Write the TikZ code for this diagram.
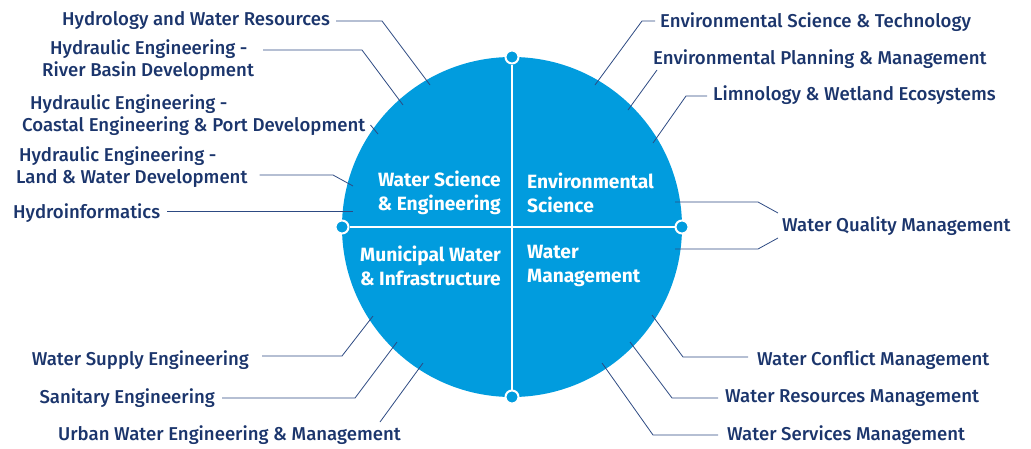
\documentclass[tikz,border=0pt]{standalone}
\usepackage{fontspec}
\setmainfont{Fira Sans}
\newfontfamily\medfont{Fira Sans Medium}
\definecolor{circblue}{HTML}{019CDE}
\definecolor{navy}{HTML}{1B356C}
\definecolor{linenavy}{HTML}{2D4A82}
\tikzset{
  topic/.style={inner sep=0pt, text=navy, font=\medfont\fontsize{18.6}{21.5}\selectfont},
  quad/.style={inner sep=0pt, text=white, font=\bfseries\fontsize{19.2}{24}\selectfont},
  dot/.style={circle, fill=circblue, draw=white, line width=2pt, minimum size=13pt, inner sep=0pt},
  cross/.style={draw=white, line width=2pt},
  link/.style={draw=linenavy, line width=0.8pt},
}
\begin{document}
\begin{tikzpicture}[x=1pt, y=-1pt]
    \useasboundingbox (0,0) rectangle (1031,448);
    % the circle and its four quarters
    \coordinate (c) at (512,227);
    \fill[circblue] (c) circle[radius=170pt];
    \node[dot] (ntop) at (512,57) {};
    \node[dot] (nbot) at (512,397) {};
    \node[dot] (nleft) at (342,227) {};
    \node[dot] (nright) at (682,227) {};
    \draw[cross] (ntop) -- (nbot);
    \draw[cross] (nleft) -- (nright);
    \node[quad, anchor=east, align=right] (qws) at (501,193) {Water Science\\\& Engineering};
    \node[quad, anchor=west, align=left] (qes) at (527,193) {Environmental\\Science};
    \node[quad, anchor=east, align=right] (qmw) at (501,266) {Municipal Water\\\& Infrastructure};
    \node[quad, anchor=west, align=left] (qwm) at (527,266) {Water\\Management};

    % left topics
    \node[topic, anchor=west] (hwr) at (62,21) {Hydrology and Water Resources};
    \node[topic, anchor=west, align=left] (rbd) at (42,60) {\hspace*{8pt}Hydraulic Engineering -\\River Basin Development};
    \node[topic, anchor=west, align=left] (cepd) at (22,115) {\hspace*{8pt}Hydraulic Engineering -\\Coastal Engineering \& Port Development};
    \node[topic, anchor=west, align=left] (lwd) at (16,167) {\hspace*{3pt}Hydraulic Engineering -\\Land \& Water Development};
    \node[topic, anchor=west] (hinf) at (13,213) {Hydroinformatics};
    \node[topic, anchor=east] (wsup) at (249,360) {Water Supply Engineering};
    \node[topic, anchor=east] (san) at (215,398) {Sanitary Engineering};
    \node[topic, anchor=west] (uwem) at (58,435) {Urban Water Engineering \& Management};

    % right topics
    \node[topic, anchor=west] (est) at (660,22) {Environmental Science \& Technology};
    \node[topic, anchor=west] (epm) at (653,59) {Environmental Planning \& Management};
    \node[topic, anchor=west] (lwe) at (713,95) {Limnology \& Wetland Ecosystems};
    \node[topic, anchor=west] (wqm) at (782,226) {Water Quality Management};
    \node[topic, anchor=west] (wcm) at (757,360) {Water Conflict Management};
    \node[topic, anchor=west] (wrm) at (725,398) {Water Resources Management};
    \node[topic, anchor=west] (wsm) at (727,435) {Water Services Management};

    % bends and ends of the leader lines
    \coordinate (b1) at (382,21);  \coordinate (e1) at (430,85);
    \coordinate (b2) at (362,50);  \coordinate (e2) at (403,105);
    \coordinate (b3) at (362,125); \coordinate (e3) at (378,134);
    \coordinate (b4) at (333,175); \coordinate (e4) at (353,186);
    \coordinate (e5) at (353,211);
    \coordinate (b6) at (342,356); \coordinate (e6) at (373,316);
    \coordinate (b7) at (355,398); \coordinate (e7) at (397,342);
    \coordinate (b8) at (380,422); \coordinate (e8) at (423,363);
    \coordinate (b9) at (642,21);  \coordinate (e9) at (595,85);
    \coordinate (b10) at (657,70); \coordinate (e10) at (628,110);
    \coordinate (b11) at (686,96); \coordinate (e11) at (653,143);
    \coordinate (b12) at (758,202); \coordinate (e12) at (675,202);
    \coordinate (b13) at (758,249); \coordinate (e13) at (675,249);
    \coordinate (b14) at (683,357); \coordinate (e14) at (652,315);
    \coordinate (b15) at (672,398); \coordinate (e15) at (630,342);
    \coordinate (b16) at (653,435); \coordinate (e16) at (602,363);

    \draw[link] (b1 -| hwr.east) ++(6,0) -- (b1) -- (e1);
    \draw[link] (b2 -| rbd.east) ++(9,0) -- (b2) -- (e2);
    \draw[link] (b3 -| cepd.east) ++(5,0) -- (e3);
    \draw[link] (b4 -| lwd.east) ++(12,0) -- (b4) -- (e4);
    \draw[link] (e5 -| hinf.east) ++(7,0) -- (e5);
    \draw[link] (b6 -| wsup.east) ++(13,0) -- (b6) -- (e6);
    \draw[link] (b7 -| san.east) ++(7,0) -- (b7) -- (e7);
    \draw[link] (b8) -- (e8);
    \draw[link] (b9 -| est.west) ++(-5,0) -- (b9) -- (e9);
    \draw[link] (b10) -- (e10);
    \draw[link] (b11 -| lwe.west) ++(-6,0) -- (b11) -- (e11);
    \draw[link] ([xshift=-4pt, yshift=13pt]wqm.west) -- (b12) -- (e12);
    \draw[link] ([xshift=-4pt, yshift=-12pt]wqm.west) -- (b13) -- (e13);
    \draw[link] (b14 -| wcm.west) ++(-9,0) -- (b14) -- (e14);
    \draw[link] (b15 -| wrm.west) ++(-7,0) -- (b15) -- (e15);
    \draw[link] (b16 -| wsm.west) ++(-9,0) -- (b16) -- (e16);
\end{tikzpicture}
\end{document}
